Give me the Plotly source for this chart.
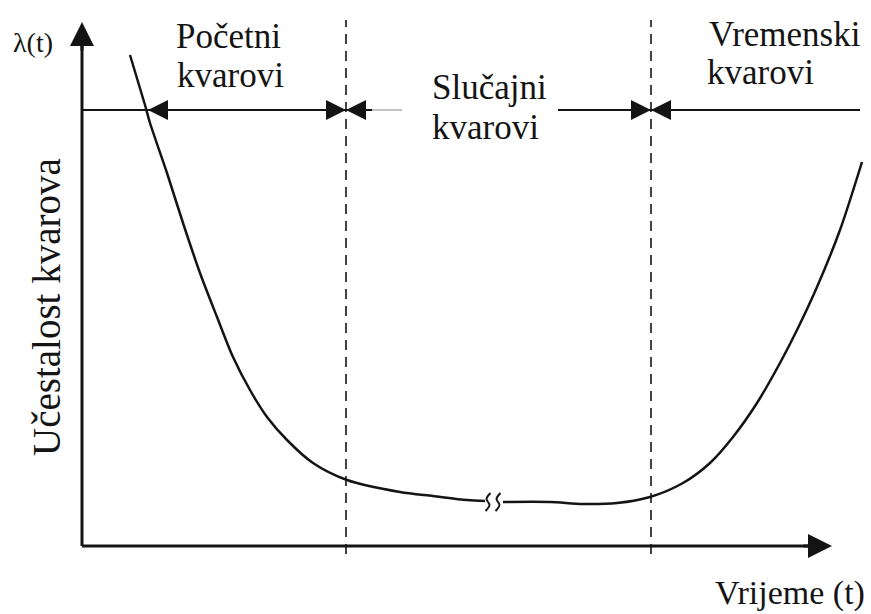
import plotly.graph_objects as go

# bathtub curve (t grows to the right, lambda grows upwards)
t_early = [130, 145, 150, 167, 183, 200, 217, 233, 250, 267, 287, 313, 347, 400, 433, 467, 485]
lam_early = [559, 509, 491, 441, 391, 341, 297, 257, 224, 197, 174, 151, 134, 122, 118, 114, 113]
t_late = [503, 550, 583, 617, 650, 683, 710, 733, 757, 780, 797, 817, 840, 862]
lam_late = [112, 112, 110, 111, 117, 131, 151, 177, 211, 251, 284, 327, 384, 452]

# axis break marks on the flat part
break_t = [488, 498]
break_lam = 112
squiggle_dt = [2.5, -1.5, 1.5, -2.5]
squiggle_dl = [9, 3, -3, -9]

# frame of the drawing
origin_t, origin_lam = 82, 68
t_end, lam_end = 832, 592
phase_bounds = [346, 651]
bound_lam = [60, 594]
span_lam = 504
span_t = [82, 860]
curve_cross_t = 148
label_gap = [402, 558]

phase_top = ["Početni", "Slučajni", "Vremenski"]
phase_bottom = ["kvarovi", "kvarovi", "kvarovi"]
phase_top_pos = [(228, 578), (489, 527), (785, 580)]
phase_bottom_pos = [(230, 539), (485, 487), (760, 542)]

INK = "#141414"
FONT = "Liberation Serif"

fig = go.Figure()

fig.add_trace(go.Scatter(x=t_early, y=lam_early, mode="lines",
                         line=dict(color=INK, width=2.5, shape="spline", smoothing=0.8),
                         hoverinfo="skip"))
fig.add_trace(go.Scatter(x=t_late, y=lam_late, mode="lines",
                         line=dict(color=INK, width=2.5, shape="spline", smoothing=0.8),
                         hoverinfo="skip"))
for bt in break_t:
    fig.add_trace(go.Scatter(x=[bt + d for d in squiggle_dt],
                             y=[break_lam + d for d in squiggle_dl], mode="lines",
                             line=dict(color=INK, width=2, shape="spline"),
                             hoverinfo="skip"))

shapes = []
# axes
shapes.append(dict(type="line", x0=origin_t, x1=origin_t, y0=origin_lam, y1=lam_end - 15,
                   line=dict(color=INK, width=3)))
shapes.append(dict(type="line", x0=origin_t, x1=t_end - 15, y0=origin_lam, y1=origin_lam,
                   line=dict(color=INK, width=3)))
# phase boundaries
for b in phase_bounds:
    shapes.append(dict(type="line", x0=b, x1=b, y0=bound_lam[0], y1=bound_lam[1],
                       line=dict(color=INK, width=1.6, dash="10px,7px")))
# span line with a gap for the middle label
shapes.append(dict(type="line", x0=span_t[0], x1=label_gap[0] - 30, y0=span_lam, y1=span_lam,
                   line=dict(color=INK, width=2)))
shapes.append(dict(type="line", x0=label_gap[0] - 30, x1=label_gap[0], y0=span_lam, y1=span_lam,
                   line=dict(color="#9a9a9a", width=1.2)))
shapes.append(dict(type="line", x0=label_gap[1], x1=span_t[1], y0=span_lam, y1=span_lam,
                   line=dict(color=INK, width=2)))

ann = []


def arrow(x, y, ax, ay, width, size):
    return dict(x=x, y=y, ax=ax, ay=ay, xref="x", yref="y", axref="x", ayref="y",
                text="", showarrow=True, arrowhead=2, arrowwidth=width, arrowsize=size,
                arrowcolor=INK)


ann.append(arrow(origin_t, lam_end, origin_t, lam_end - 30, 3, 1.6))
ann.append(arrow(t_end, origin_lam, t_end - 30, origin_lam, 3, 1.6))
ann.append(arrow(curve_cross_t, span_lam, curve_cross_t + 22, span_lam, 2, 2))
for b in phase_bounds:
    ann.append(arrow(b, span_lam, b - 22, span_lam, 2, 2))
    ann.append(arrow(b, span_lam, b + 22, span_lam, 2, 2))

for txt, (x, y) in zip(phase_top, phase_top_pos):
    ann.append(dict(x=x, y=y, xref="x", yref="y", text=txt, showarrow=False,
                    font=dict(family=FONT, size=35, color=INK)))
for txt, (x, y) in zip(phase_bottom, phase_bottom_pos):
    ann.append(dict(x=x, y=y, xref="x", yref="y", text=txt, showarrow=False,
                    font=dict(family=FONT, size=35, color=INK)))

ann.append(dict(x=867, y=21, xref="x", yref="y", text="Vrijeme (t)", showarrow=False,
                xanchor="right", font=dict(family=FONT, size=34, color=INK)))
ann.append(dict(x=33, y=572, xref="x", yref="y", text="λ(t)", showarrow=False,
                font=dict(family=FONT, size=28, color=INK)))
ann.append(dict(x=46, y=307, xref="x", yref="y", text="Učestalost kvarova", showarrow=False,
                textangle=-90, font=dict(family=FONT, size=39, color=INK)))

fig.update_layout(
    width=871, height=614,
    margin=dict(l=0, r=0, t=0, b=0),
    paper_bgcolor="white", plot_bgcolor="white",
    showlegend=False,
    shapes=shapes, annotations=ann,
    xaxis=dict(range=[0, 871], visible=False, fixedrange=True),
    yaxis=dict(range=[0, 614], visible=False, fixedrange=True),
)

# drop the default page margin so the drawing fills the window exactly
fig.write_html("out.html", config={"displayModeBar": False},
               post_script="document.body.style.margin='0';")
